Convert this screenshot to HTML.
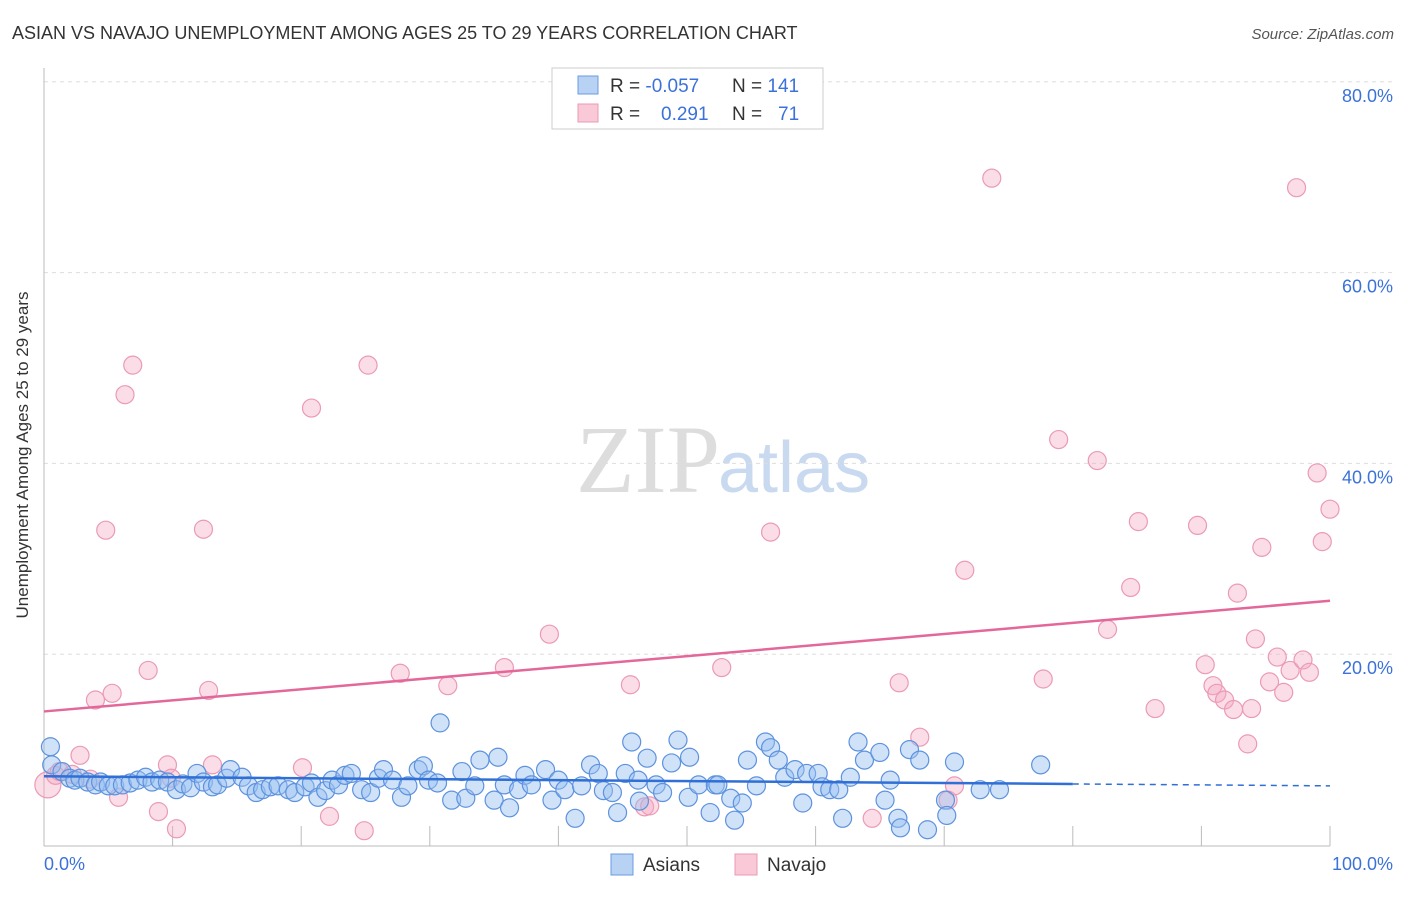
<!DOCTYPE html>
<html><head><meta charset="utf-8"><style>
body{margin:0;background:#fff;font-family:"Liberation Sans",sans-serif}
</style></head><body>
<svg width="1406" height="892" xmlns="http://www.w3.org/2000/svg" id="chart">
<text x="12" y="39" font-size="18" fill="#333">ASIAN VS NAVAJO UNEMPLOYMENT AMONG AGES 25 TO 29 YEARS CORRELATION CHART</text>
<text x="1394" y="39" font-size="15" fill="#555" text-anchor="end" font-style="italic">Source: ZipAtlas.com</text>
<text x="720" y="492" font-size="96" fill="#ddd" text-anchor="end" font-family="Liberation Serif,serif">ZIP</text>
<text x="718" y="492" font-size="72" fill="#c9d9f0">atlas</text>
<g id="grid"></g>
<line x1="44" y1="68" x2="44" y2="846" stroke="#bbb"/>
<line x1="44" y1="846" x2="1330" y2="846" stroke="#bbb"/>
<text x="28" y="455" font-size="17" fill="#333" text-anchor="middle" transform="rotate(-90 28 455)">Unemployment Among Ages 25 to 29 years</text>
<text x="44" y="870" font-size="18" fill="#3b72d9">0.0%</text>
<text x="1393" y="870" font-size="18" fill="#3b72d9" text-anchor="end">100.0%</text>
<g id="pts"></g>
<g id="lines"></g>
<g>
<rect x="552" y="68" width="271" height="61" fill="#fff" stroke="#ccc"/>
<rect x="578" y="76" width="20" height="18" fill="#b8d2f3" stroke="#6b9be0"/>
<rect x="578" y="104" width="20" height="18" fill="#f9c9d8" stroke="#ea9ab4"/>
<text x="610" y="92" font-size="19" fill="#333">R = <tspan fill="#3b72d9">-0.057</tspan><tspan x="732">N = </tspan><tspan fill="#3b72d9">141</tspan></text>
<text x="610" y="120" font-size="19" fill="#333">R = <tspan fill="#3b72d9" x="661">0.291</tspan><tspan x="732">N = </tspan><tspan fill="#3b72d9" x="778">71</tspan></text>
</g>
<g>
<rect x="611" y="854" width="22" height="21" fill="#b8d2f3" stroke="#6b9be0"/>
<text x="643" y="871" font-size="19" fill="#333">Asians</text>
<rect x="735" y="854" width="22" height="21" fill="#f9c9d8" stroke="#ea9ab4"/>
<text x="767" y="871" font-size="19" fill="#333">Navajo</text>
</g>
</svg>
<script>
const yTicks=[20,40,60,80];
const yTickLabels=["20.0%","40.0%","60.0%","80.0%"];
const xTicks=[10,20,30,40,50,60,70,80,90,100];
const asianX=[0.5,0.6,1.4,2.0,2.4,2.8,3.4,4.0,4.4,5.0,5.5,6.1,6.7,7.3,7.9,8.4,9.0,9.6,10.3,10.8,11.4,11.9,12.4,13.1,13.5,14.2,14.5,15.4,15.9,16.5,17.0,17.6,18.2,19.0,19.5,20.3,20.8,21.3,21.9,22.4,22.9,23.4,23.9,24.7,25.4,26.0,26.4,27.1,27.8,28.3,29.1,29.5,29.9,30.6,30.8,31.7,32.5,32.8,33.5,33.9,35.0,35.3,35.8,36.2,36.9,37.4,37.9,39.0,39.5,40.0,40.5,41.3,41.8,42.5,43.1,43.5,44.2,44.6,45.2,45.7,46.2,46.3,46.9,47.6,48.1,48.8,49.3,50.1,50.2,50.9,51.8,52.2,52.4,53.4,53.7,54.3,54.7,55.4,56.1,56.5,57.1,57.6,58.4,59.0,59.3,60.2,60.5,61.1,61.8,62.1,62.7,63.3,63.8,65.0,65.4,65.8,66.4,66.6,67.3,68.1,68.7,70.1,70.2,70.8,72.8,74.3,77.5];
const asianY=[10.3,8.4,7.7,7.0,6.8,7.0,6.6,6.3,6.6,6.2,6.2,6.3,6.5,6.8,7.1,6.6,6.8,6.6,5.8,6.4,6.0,7.5,6.6,6.1,6.3,7.0,7.9,7.1,6.2,5.5,5.8,6.1,6.2,5.8,5.5,6.1,6.5,5.0,5.7,6.8,6.3,7.3,7.5,5.8,5.5,7.0,7.9,6.8,5.0,6.2,7.9,8.3,6.8,6.5,12.8,4.7,7.7,4.9,6.2,8.9,4.7,9.2,6.3,3.9,5.8,7.3,6.3,7.9,4.7,6.8,5.8,2.8,6.2,8.4,7.5,5.7,5.5,3.4,7.5,10.8,6.8,4.6,9.1,6.3,5.5,8.6,11.0,5.0,9.2,6.3,3.4,6.3,6.3,4.9,2.6,4.4,8.9,6.2,10.8,10.2,8.9,7.1,7.9,4.4,7.5,7.5,6.1,5.8,5.8,2.8,7.1,10.8,8.9,9.7,4.7,6.8,2.8,1.8,10.0,8.9,1.6,4.7,3.1,8.7,5.8,5.8,8.4];
const navX=[0.3,0.9,1.2,2.2,2.8,3.6,4.0,4.8,5.3,5.8,6.3,6.9,8.1,8.9,9.6,9.9,10.3,12.4,12.8,13.1,20.1,20.8,22.2,24.9,25.2,27.7,31.4,35.8,39.3,45.6,46.7,47.1,52.7,56.5,64.4,66.5,68.1,70.3,70.8,71.6,73.7,77.7,78.9,81.9,82.7,84.5,85.1,86.4,89.7,90.3,90.9,91.2,91.8,92.5,92.8,93.6,93.9,94.2,94.7,95.3,95.9,96.4,96.9,97.4,97.9,98.4,99.0,99.4,100];
const navY=[6.3,7.3,7.7,7.4,9.4,6.9,15.2,33.0,15.9,5.0,47.2,50.3,18.3,3.5,8.4,7.0,1.7,33.1,16.2,8.4,8.1,45.8,3.0,1.5,50.3,18.0,16.7,18.6,22.1,16.8,4.0,4.1,18.6,32.8,2.8,17.0,11.3,4.7,6.2,28.8,69.9,17.4,42.5,40.3,22.6,27.0,33.9,14.3,33.5,18.9,16.7,15.9,15.2,14.2,26.4,10.6,14.3,21.6,31.2,17.1,19.7,16.0,18.3,68.9,19.4,18.1,39.0,31.8,35.2];
const asianTrend=[7.2,6.2];
const navTrend=[14.0,25.6];
const X=v=>44+v*12.86, Y=v=>845-v*9.54;
const NS="http://www.w3.org/2000/svg";
const grid=document.getElementById('grid'),pts=document.getElementById('pts'),lines=document.getElementById('lines');
function mk(tag,attrs,parent){const e=document.createElementNS(NS,tag);for(const k in attrs)e.setAttribute(k,attrs[k]);parent.appendChild(e);return e;}
yTicks.forEach((t,i)=>{
 const l=mk('line',{x1:44,x2:1393,y1:Y(t),y2:Y(t),stroke:'#ddd','stroke-dasharray':'4,4'},grid);
 
 
 const tx=mk('text',{x:1393,y:Y(t)+20,'font-size':18,fill:'#3b72d9','text-anchor':'end'},grid);
 tx.textContent=yTickLabels[i];
 
 
});
xTicks.forEach(t=>{
 const l=mk('line',{x1:X(t),x2:X(t),y1:826,y2:846,stroke:'#bbb'},grid);
 
 
});
navX.forEach((x,i)=>{
 const c=mk('circle',{cx:X(x),cy:Y(navY[i]),r:i==0?13:9,fill:'rgba(245,170,195,0.4)',stroke:'#eb9ab5','stroke-width':1.2},pts);
 
 
});
asianX.forEach((x,i)=>{
 const c=mk('circle',{cx:X(x),cy:Y(asianY[i]),r:9,fill:'rgba(150,190,240,0.45)',stroke:'#5d92de','stroke-width':1.2},pts);
 
 
});
const nl=mk('line',{x1:X(0),y1:Y(navTrend[0]),x2:X(100),y2:Y(navTrend[1]),stroke:'#e4679a','stroke-width':2.5},lines);


const aEnd=asianTrend[0]+(asianTrend[1]-asianTrend[0])*0.8;
const al=mk('line',{x1:X(0),y1:Y(asianTrend[0]),x2:X(80),y2:Y(aEnd),stroke:'#2f6fd6','stroke-width':2.5},lines);


const ad=mk('line',{x1:X(80),y1:Y(aEnd),x2:X(100),y2:Y(asianTrend[1]),stroke:'#2f6fd6','stroke-width':1.5,'stroke-dasharray':'6,5'},lines);


</script>
</body></html>
